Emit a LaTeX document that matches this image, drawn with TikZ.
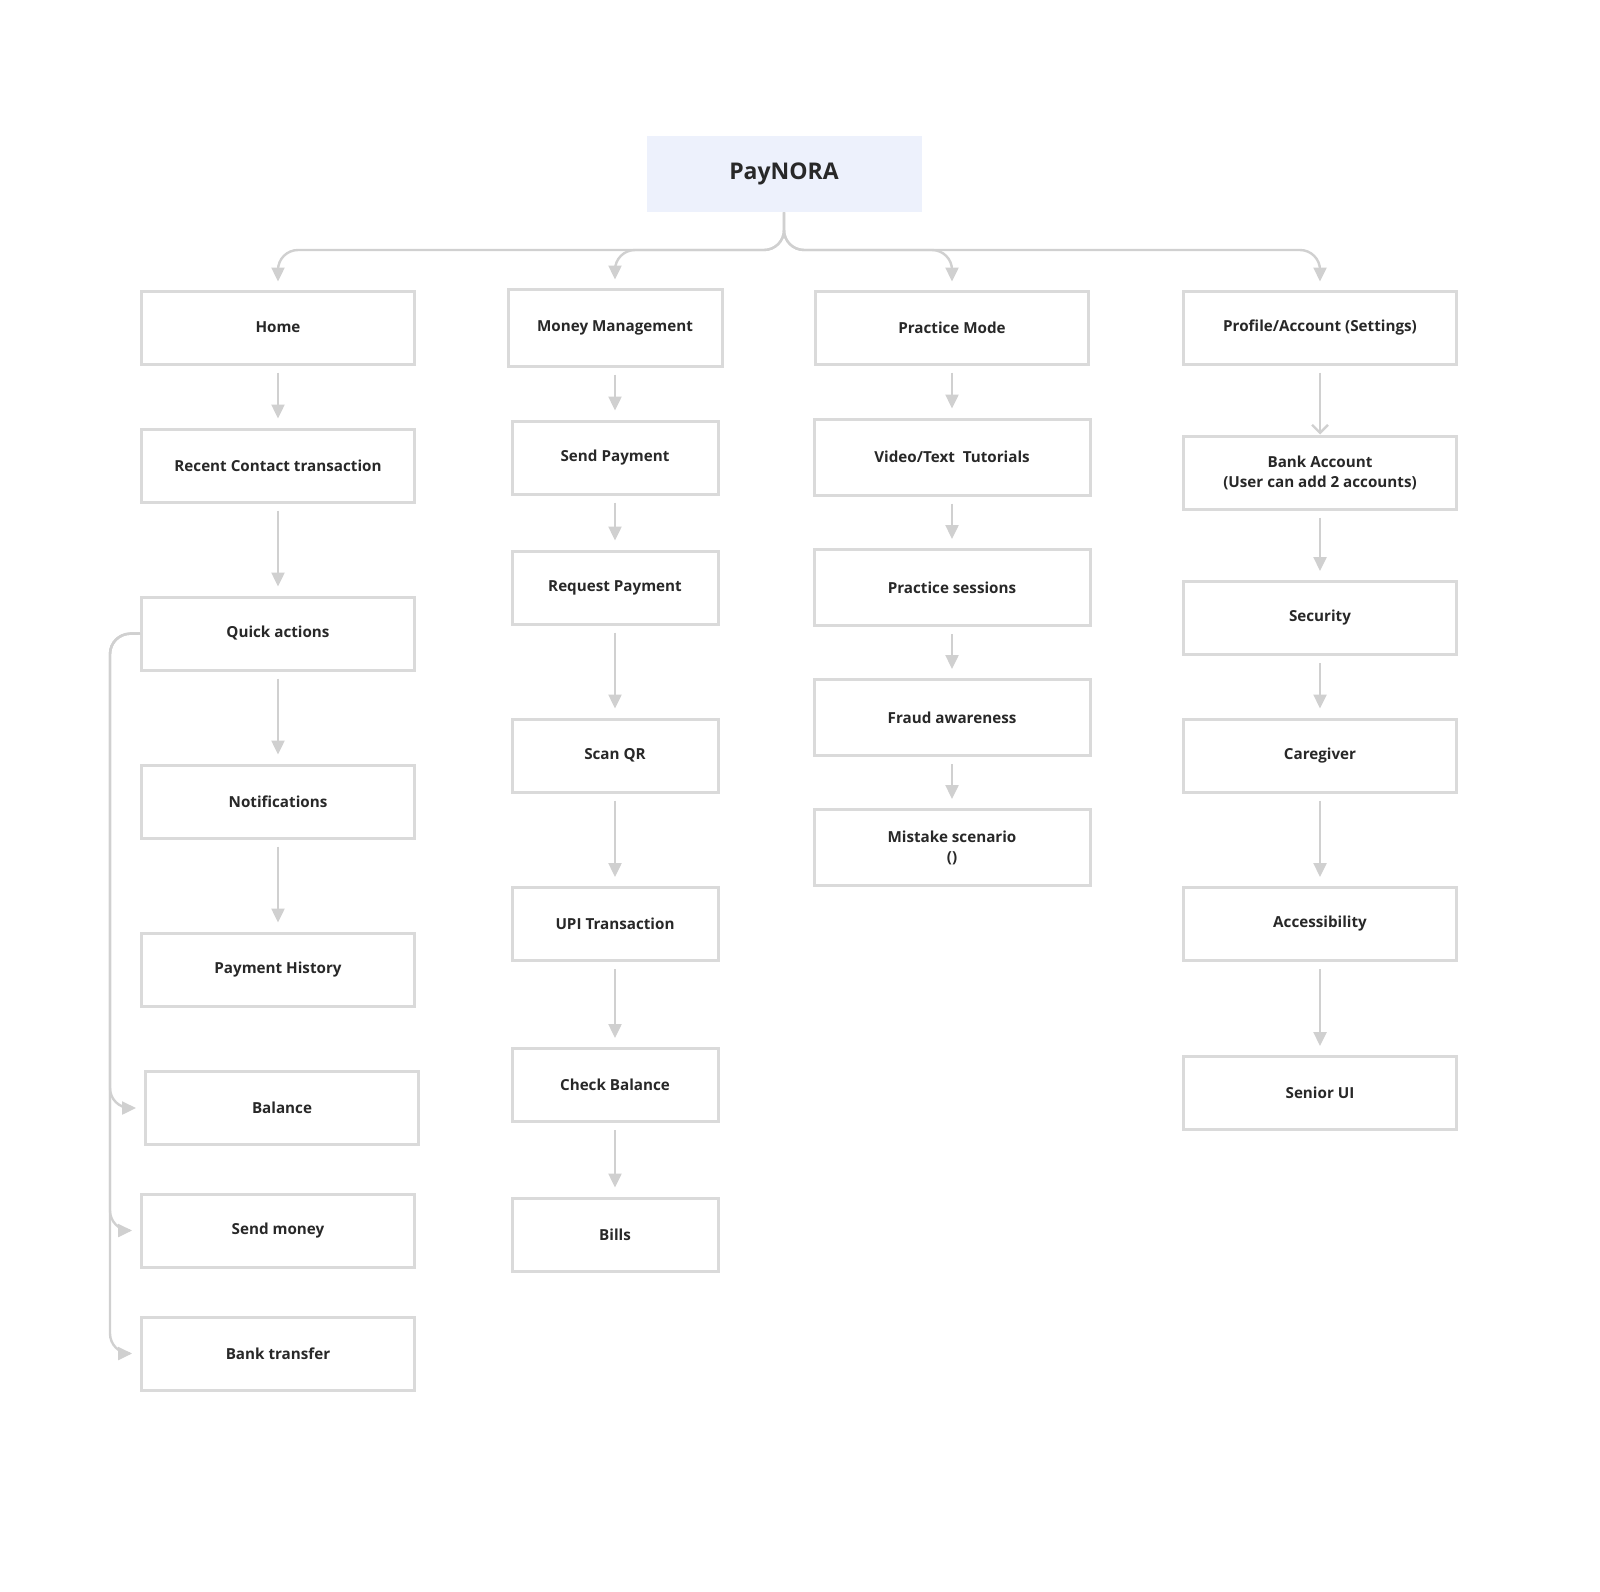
\documentclass[tikz,border=0pt]{standalone}
\usepackage{fontspec}
\setmainfont{Open Sans}
\usetikzlibrary{arrows.meta}
\definecolor{boxLine}{RGB}{218,218,218}
\definecolor{arrowLine}{RGB}{208,208,208}
\definecolor{titleFill}{RGB}{237,241,252}
\definecolor{textColor}{RGB}{40,40,40}
\tikzstyle{plan} = [x = 0.5pt, y = -0.5pt]
\tikzstyle{boxStyle} = [draw=boxLine, line width=1.5pt, fill=white, align=center, text=textColor, font=\fontsize{7.6}{10}\selectfont\bfseries, minimum height=36.5pt, inner sep=2pt]
\tikzstyle{colA} = [boxStyle, minimum width=136.5pt]
\tikzstyle{colB} = [boxStyle, minimum width=103pt]
\tikzstyle{link} = [draw=arrowLine, line width=1.2pt, -{Triangle[length=7pt, width=6.5pt]}, shorten <=3.5pt, shorten >=4.5pt]
\tikzstyle{branch} = [link, shorten <=0pt, rounded corners=10pt]
\begin{document}
\begin{tikzpicture}[plan]
  \useasboundingbox (0,0) rectangle (1600,1591);
  \node [fill=titleFill, minimum width=137.5pt, minimum height=38pt, text=textColor, font=\fontsize{11.5}{13}\selectfont\bfseries] (title) at (784,174) {PayNORA};

  % home column
  \node [colA] (home) at (278,327.5) {Home};
  \node [colA] (recent) at (278,465.5) {Recent Contact transaction};
  \node [colA] (quick) at (278,633.5) {Quick actions};
  \node [colA] (notif) at (278,801.5) {Notifications};
  \node [colA] (history) at (278,969.5) {Payment History};
  \node [colA] (balance) at (282,1108) {Balance};
  \node [colA] (sendmoney) at (278,1230.5) {Send money};
  \node [colA] (banktransfer) at (278,1353.5) {Bank transfer};

  % money column
  \node [colB, minimum width=107pt, minimum height=38.5pt] (money) at (615,327.5) {Money Management};
  \node [colB] (sendpay) at (615,457.5) {Send Payment};
  \node [colB] (request) at (615,587.5) {Request Payment};
  \node [colB] (scan) at (615,755.5) {Scan QR};
  \node [colB] (upi) at (615,924) {UPI Transaction};
  \node [colB] (check) at (615,1085) {Check Balance};
  \node [colB] (bills) at (615,1234.5) {Bills};

  % practice column
  \node [colA] (practice) at (952,327.5) {Practice Mode};
  \node [colA, minimum width=138pt, minimum height=38pt] (video) at (952,457) {Video/Text\ \ Tutorials};
  \node [colA, minimum width=138pt, minimum height=38pt] (sessions) at (952,587.5) {Practice sessions};
  \node [colA, minimum width=138pt, minimum height=38pt] (fraud) at (952,717.5) {Fraud awareness};
  \node [colA, minimum width=138pt, minimum height=38pt] (mistake) at (952,847.5) {Mistake scenario\\()};

  % profile column
  \node [colA] (profile) at (1320,327.5) {Profile/Account (Settings)};
  \node [colA] (bank) at (1320,472.5) {Bank Account\\(User can add 2 accounts)};
  \node [colA] (security) at (1320,618) {Security};
  \node [colA] (caregiver) at (1320,755.5) {Caregiver};
  \node [colA] (access) at (1320,924) {Accessibility};
  \node [colA] (senior) at (1320,1093) {Senior UI};

  % tree from title
  \foreach \target in {home, money, practice, profile}
    \draw [branch, shorten >=4pt] (title.south) -- (784,250) -| (\target.north);

  % column links
  \foreach \from/\to in {home/recent, recent/quick, quick/notif, notif/history,
      money/sendpay, sendpay/request, request/scan, scan/upi, upi/check, check/bills,
      practice/video, video/sessions, sessions/fraud, fraud/mistake,
      bank/security, security/caregiver, caregiver/access, access/senior}
    \draw [link] (\from) -- (\to);
  \draw [link, -{Straight Barb[length=4pt, width=8pt]}, shorten >=0pt] (profile) -- (bank);

  % quick actions branch
  \foreach \target in {balance, sendmoney, banktransfer}
    \draw [branch, shorten >=4pt] (quick.west) -- (110,634) |- (\target.west);
\end{tikzpicture}
\end{document}
